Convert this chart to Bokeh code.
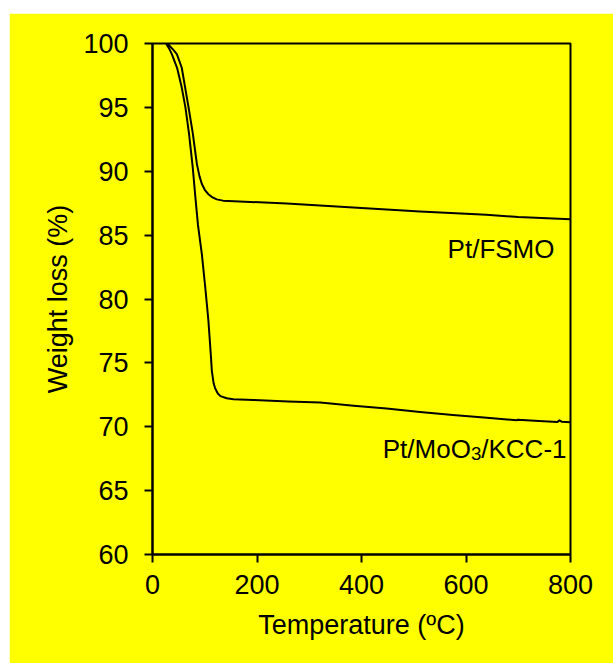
from bokeh.plotting import figure
from bokeh.models import Range1d, FixedTicker, Spacer
from bokeh.layouts import column, row
from bokeh.core.properties import value
from bokeh.embed import file_html
from bokeh.resources import INLINE

# ---- data ----
x_ticks = [0, 200, 400, 600, 800]
y_ticks = [60, 65, 70, 75, 80, 85, 90, 95, 100]

fsmo_T = [29, 33, 40, 46.6, 56, 62.5, 69, 77, 85, 90, 94.5, 100, 107, 115, 123,
          135, 187, 257, 384, 512, 639, 700, 800]
fsmo_W = [100, 99.8, 99.5, 99.17, 98.1, 96.55, 95.0, 93.0, 90.56, 89.6, 89.0,
          88.55, 88.2, 87.95, 87.8, 87.7, 87.6, 87.47, 87.16, 86.84, 86.59,
          86.42, 86.25]

kcc_T = [26, 32, 37, 47, 56, 63, 70, 77, 82, 87, 94.5, 101, 107, 111.5, 113.5,
         117, 120, 125, 130, 142, 155, 193, 260, 321, 385, 448, 512, 575, 640,
         697, 699, 740, 775, 779, 783, 800]
kcc_W = [100, 99.6, 99.17, 98.1, 96.55, 95.0, 92.9, 90.3, 88.0, 85.8, 83.5,
         80.9, 78.3, 75.7, 74.4, 73.4, 73.0, 72.6, 72.4, 72.23, 72.15, 72.1,
         71.98, 71.89, 71.65, 71.42, 71.15, 70.92, 70.7, 70.51, 70.55, 70.45,
         70.38, 70.5, 70.4, 70.36]

label_fsmo = "Pt/FSMO"
label_kcc_parts = ["Pt/MoO", "3", "/KCC-1"]
x_label = "Temperature (ºC)"
y_label = "Weight loss (%)"

FONT = "Liberation Sans"
YELLOW = "#FFFF00"

p = figure(width=604, height=650, output_backend="svg", toolbar_location=None,
           x_range=Range1d(0, 800), y_range=Range1d(60, 100),
           min_border_left=143, min_border_right=43, min_border_top=30,
           min_border_bottom=109)
p.background_fill_color = YELLOW
p.border_fill_color = YELLOW
p.outline_line_color = "black"
p.outline_line_width = 2
p.grid.visible = False

for ax in (p.xaxis[0], p.yaxis[0]):
    ax.axis_line_color = "black"
    ax.axis_line_width = 2
    ax.major_tick_line_color = "black"
    ax.major_tick_line_width = 2
    ax.major_tick_out = 8
    ax.major_tick_in = 0
    ax.minor_tick_line_color = None
    ax.major_label_text_font = FONT
    ax.major_label_text_font_size = "27px"
    ax.major_label_text_color = "black"
    ax.axis_label_text_font = FONT
    ax.axis_label_text_font_size = "27px"
    ax.axis_label_text_font_style = "normal"
    ax.axis_label_text_color = "black"

p.xaxis.ticker = FixedTicker(ticks=x_ticks)
p.yaxis.ticker = FixedTicker(ticks=y_ticks)
p.xaxis.axis_label = x_label
p.yaxis.axis_label = y_label
p.xaxis.major_label_standoff = 12
p.yaxis.major_label_standoff = 16
p.xaxis.axis_label_standoff = 13
p.yaxis.axis_label_standoff = 7

p.line(fsmo_T, fsmo_W, line_color="black", line_width=2, line_join="round")
p.line(kcc_T, kcc_W, line_color="black", line_width=2, line_join="round")

p.text(x=[800], y=[83.9], text=[label_fsmo], x_offset=-16,
       text_align="right", text_baseline="alphabetic",
       text_font=value(FONT), text_font_size="26px", text_color="black")
p.text(x=[800], y=[68.24], text=[label_kcc_parts[2]], x_offset=-4,
       text_align="right", text_baseline="alphabetic",
       text_font=value(FONT), text_font_size="26px", text_color="black")
p.text(x=[800], y=[68.24], text=[label_kcc_parts[1]], x_offset=-89.2, y_offset=4.5,
       text_align="right", text_baseline="alphabetic",
       text_font=value(FONT), text_font_size="18.7px", text_color="black")
p.text(x=[800], y=[68.24], text=[label_kcc_parts[0]], x_offset=-99.6,
       text_align="right", text_baseline="alphabetic",
       text_font=value(FONT), text_font_size="26px", text_color="black")

layout = row(Spacer(width=9, height=663), column(Spacer(height=13, width=604), p))
open("out.html", "w").write(file_html(layout, INLINE))
